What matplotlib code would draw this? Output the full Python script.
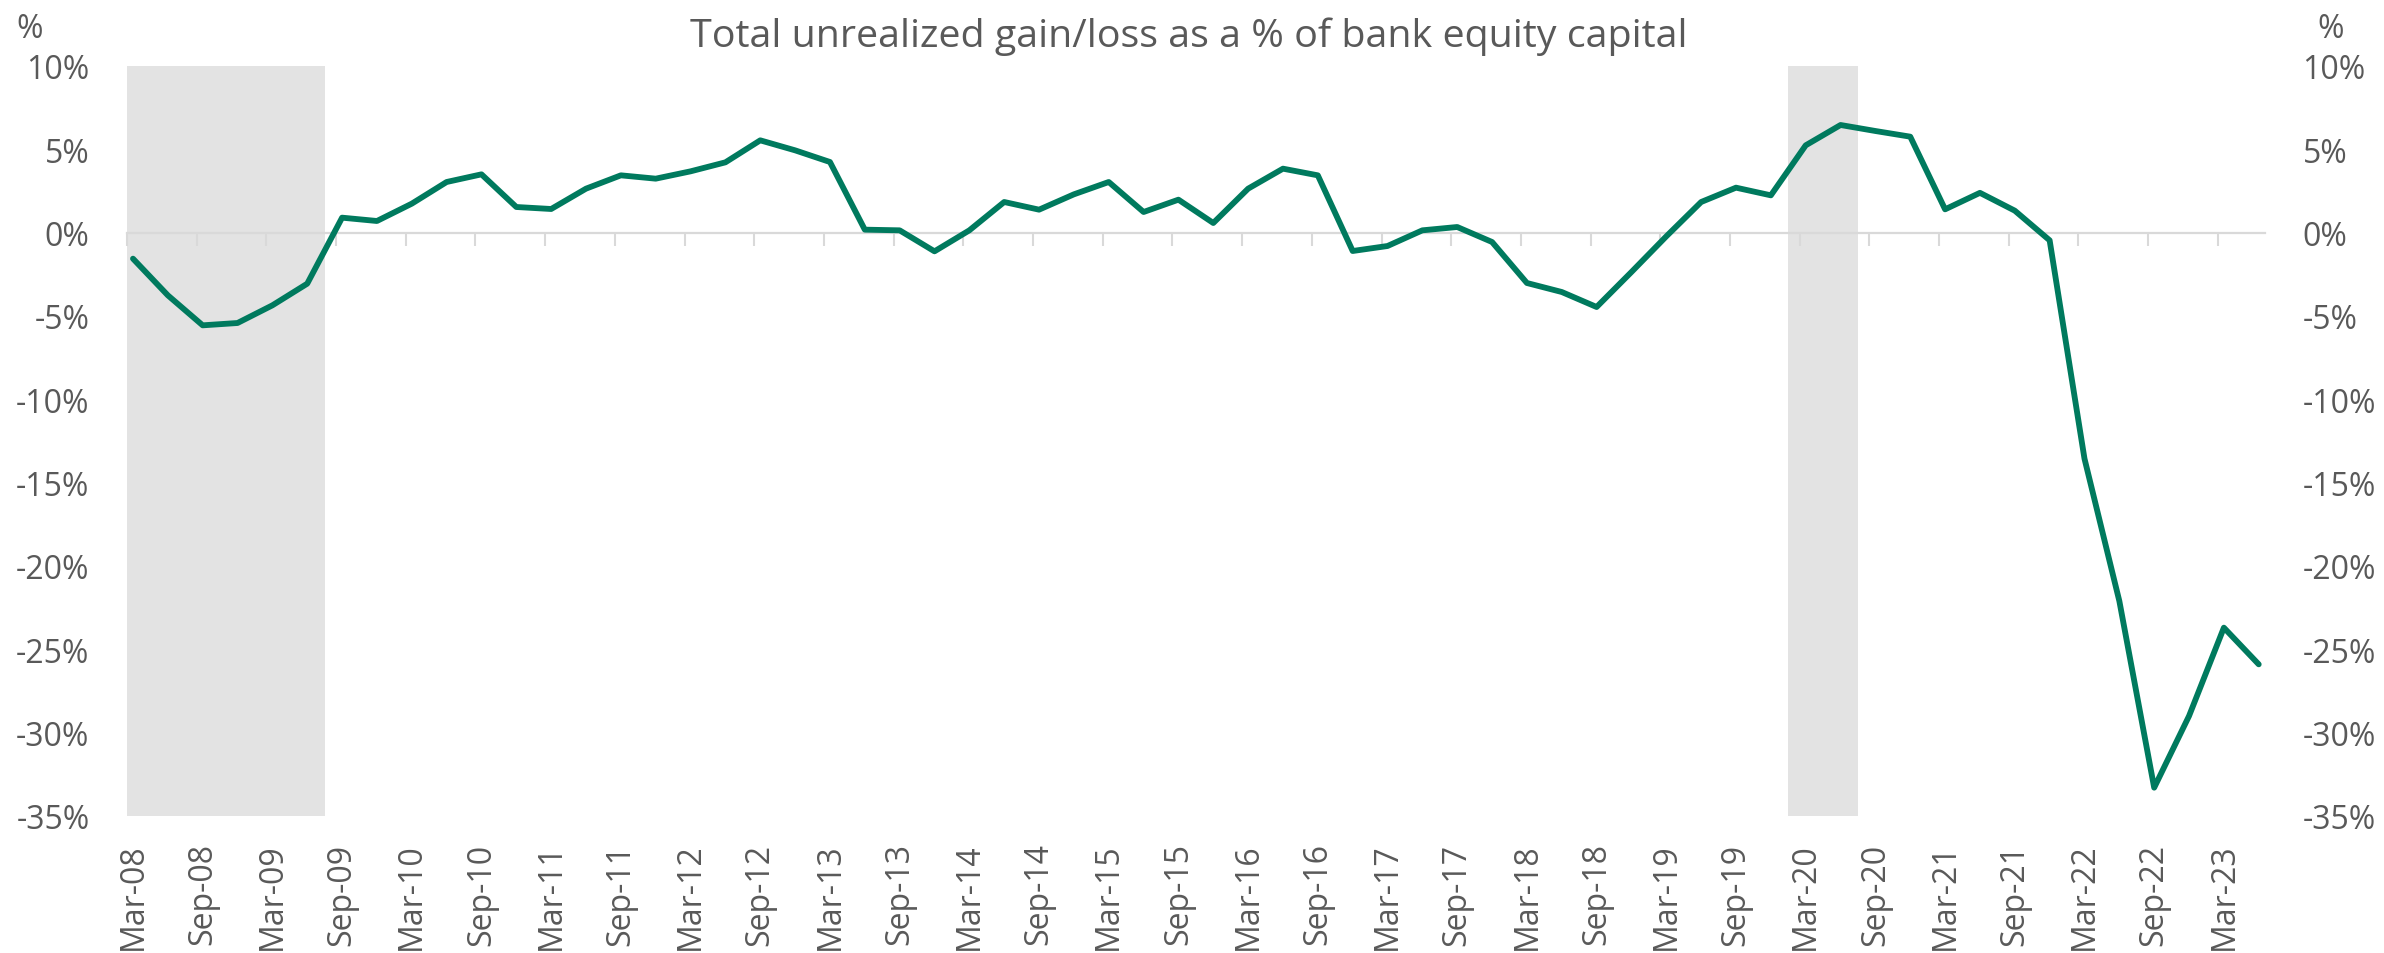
import numpy as np
import pandas as pd
import matplotlib
matplotlib.use("Agg")
import matplotlib.pyplot as plt
from matplotlib.ticker import FuncFormatter

# quarterly, Mar-08 .. Jun-23
quarters = pd.date_range("2008-03-31", periods=62, freq="QE")
quarter_labels = [d.strftime("%b-%y") for d in quarters]

# total unrealized gain/loss as % of equity capital
gain_loss_pct = [
    -1.56, -3.76, -5.56, -5.42, -4.36, -3.06, 0.90, 0.70, 1.74, 3.04,
    3.50, 1.54, 1.42, 2.64, 3.44, 3.24, 3.68, 4.22, 5.54, 4.94,
    4.24, 0.18, 0.14, -1.12, 0.14, 1.84, 1.38, 2.30, 3.04, 1.24,
    1.98, 0.58, 2.64, 3.84, 3.44, -1.10, -0.80, 0.14, 0.34, -0.56,
    -3.02, -3.56, -4.46, -2.36, -0.22, 1.84, 2.70, 2.24, 5.24, 6.46,
    6.10, 5.76, 1.40, 2.39, 1.32, -0.46, -13.56, -22.10, -33.30, -29.00,
    -23.70, -25.90,
]

# recession quarters (shaded)
recession = [1] * 6 + [0] * 42 + [1, 1] + [0] * 12

y_min, y_max = -35, 10
grey = "#595959"
green = "#007a5e"

plt.rcParams["font.family"] = ["Open Sans", "DejaVu Sans"]

fig = plt.figure(figsize=(23.84, 9.54), dpi=100)
ax = fig.add_axes([127 / 2384, 1 - 817 / 954, (2265 - 127) / 2384, (817 - 67) / 954])

x = np.arange(len(gain_loss_pct))
shade = np.array(recession) * (y_max - y_min)
ax.bar(x, shade, bottom=y_min, width=1.0, color="#e3e3e3", zorder=1)
ax.plot(x, gain_loss_pct, color=green, lw=4.2, zorder=3, solid_capstyle="round")

ax.set_xlim(-0.172, 61.18)
ax.set_ylim(y_min, y_max)

# y axis: labels both sides
ax.set_yticks(np.arange(y_min, y_max + 1, 5))
ax.yaxis.set_major_formatter(FuncFormatter(lambda v, p: f"{int(round(v))}%"))
ax.tick_params(axis="y", length=0, labelleft=True, labelright=True,
               labelsize=23, labelcolor=grey, pad=27)

# x axis line at zero with tick marks between labels
for s in ["top", "left", "right"]:
    ax.spines[s].set_visible(False)
ax.spines["bottom"].set_position(("data", 0))
ax.spines["bottom"].set_color("#d9d9d9")
ax.spines["bottom"].set_linewidth(1.6)
ax.spines["bottom"].set_zorder(2)
ax.set_xticks([])
ax.set_xticks(np.arange(-0.172, 61.18, 2), minor=True)
ax.tick_params(axis="x", which="minor", length=9.5, width=1.5, color="#d9d9d9",
               direction="out", labelbottom=False)

# date labels along the bottom
sec = ax.secondary_xaxis(0.0)
sec.set_xticks(x[::2], [quarter_labels[i] for i in x[::2]], rotation=90)
sec.tick_params(length=0, pad=19, labelsize=23, labelcolor=grey)
sec.spines["bottom"].set_visible(False)

fig.text(0.4985, 1 - 47 / 954, "Total unrealized gain/loss as a % of bank equity capital",
         ha="center", va="baseline", fontsize=28.4, color=grey)
fig.text(30 / 2384, 1 - 38 / 954, "%", ha="center", va="baseline", fontsize=23, color=grey)
fig.text(2331 / 2384, 1 - 38 / 954, "%", ha="center", va="baseline", fontsize=23, color=grey)

fig.savefig("out.png", dpi=100)
